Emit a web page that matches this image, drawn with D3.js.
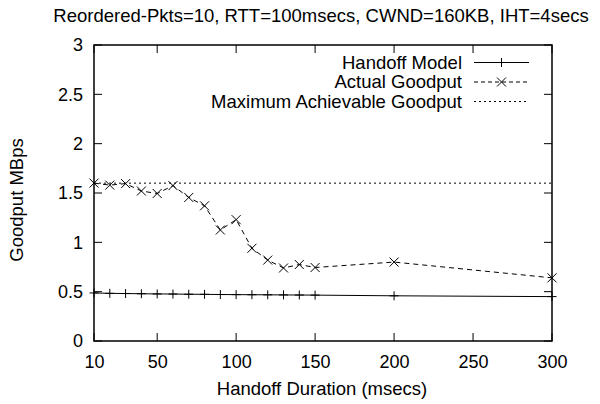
<!DOCTYPE html>
<html>
<head>
<meta charset="utf-8">
<script src="https://cdn.jsdelivr.net/npm/d3@7"></script>
<style>
  body { margin: 0; background: #fff; }
  svg { font-family: "Liberation Sans", Arial, sans-serif; }
</style>
</head>
<body>
<svg></svg>
<script>
const width = 600;
const height = 404;
const margin = { top: 45, right: 48, bottom: 63, left: 94 };

const title = 'Reordered-Pkts=10, RTT=100msecs, CWND=160KB, IHT=4secs';
const xTicks = [10, 50, 100, 150, 200, 250, 300];
const yTicks = [0, 0.5, 1, 1.5, 2, 2.5, 3];

const durations = [10, 20, 30, 40, 50, 60, 70, 80, 90, 100, 110, 120, 130, 140, 150, 200, 300];
const handoffModel = [0.487, 0.483, 0.481, 0.479, 0.477, 0.476, 0.474, 0.473, 0.471, 0.470, 0.469, 0.468, 0.467, 0.466, 0.465, 0.458, 0.450];
const actualGoodput = [1.60, 1.58, 1.595, 1.52, 1.495, 1.575, 1.455, 1.37, 1.125, 1.23, 0.94, 0.82, 0.74, 0.775, 0.745, 0.80, 0.64];
const maxGoodput = 1.6;

const font = '"Liberation Sans", Arial, sans-serif';
const textSize = 18.5;
const tickSize = 18;

const svg = d3.select('svg')
  .attr('width', width)
  .attr('height', height);

const x = d3.scaleLinear()
  .domain([10, 300])
  .range([margin.left, width - margin.right]);

const y = d3.scaleLinear()
  .domain([0, 3])
  .range([height - margin.bottom, margin.top]);

const tickLen = 8;
const plotLeft = x.range()[0], plotRight = x.range()[1];
const plotTop = y.range()[1], plotBottom = y.range()[0];

// ticks on all four sides, pointing inward
const ticks = svg.append('g').attr('stroke', '#000').attr('stroke-width', 1);
xTicks.forEach(t => {
  ticks.append('line').attr('x1', x(t)).attr('x2', x(t)).attr('y1', plotBottom).attr('y2', plotBottom - tickLen);
  ticks.append('line').attr('x1', x(t)).attr('x2', x(t)).attr('y1', plotTop).attr('y2', plotTop + tickLen);
});
yTicks.forEach(t => {
  ticks.append('line').attr('x1', plotLeft).attr('x2', plotLeft + tickLen).attr('y1', y(t)).attr('y2', y(t));
  ticks.append('line').attr('x1', plotRight).attr('x2', plotRight - tickLen).attr('y1', y(t)).attr('y2', y(t));
});

svg.append('g')
  .attr('transform', `translate(0, ${plotBottom})`)
  .call(d3.axisBottom(x).tickValues(xTicks).tickSize(0).tickPadding(14))
  .call(g => g.select('.domain').remove())
  .selectAll('text')
  .attr('font-size', tickSize)
  .attr('fill', '#000')
  .attr('font-family', font);

svg.append('g')
  .attr('transform', `translate(${plotLeft}, 0)`)
  .call(d3.axisLeft(y).tickValues(yTicks).tickFormat(d3.format('')).tickSize(0).tickPadding(11))
  .call(g => g.select('.domain').remove())
  .selectAll('text')
  .attr('font-size', tickSize)
  .attr('fill', '#000')
  .attr('font-family', font);

// max achievable goodput
svg.append('line')
  .attr('x1', plotLeft).attr('x2', plotRight)
  .attr('y1', y(maxGoodput)).attr('y2', y(maxGoodput))
  .attr('stroke', '#000').attr('stroke-width', 1)
  .attr('stroke-dasharray', '2,3');

const line = d3.line()
  .x(d => x(d[0]))
  .y(d => y(d[1]));

const modelData = durations.map((d, i) => [d, handoffModel[i]]);
const actualData = durations.map((d, i) => [d, actualGoodput[i]]);

svg.append('path')
  .datum(modelData)
  .attr('d', line)
  .attr('fill', 'none')
  .attr('stroke', '#000')
  .attr('stroke-width', 1);

svg.append('path')
  .datum(actualData)
  .attr('d', line)
  .attr('fill', 'none')
  .attr('stroke', '#000')
  .attr('stroke-width', 1)
  .attr('stroke-dasharray', '5,4');

const m = 4.5;
const plusPath = (cx, cy) => `M${cx - m},${cy}H${cx + m}M${cx},${cy - m}V${cy + m}`;
const crossPath = (cx, cy) => `M${cx - m},${cy - m}L${cx + m},${cy + m}M${cx - m},${cy + m}L${cx + m},${cy - m}`;

svg.append('g').selectAll('path')
  .data(modelData)
  .join('path')
  .attr('d', d => plusPath(x(d[0]), y(d[1])))
  .attr('stroke', '#000')
  .attr('stroke-width', 1);

svg.append('g').selectAll('path')
  .data(actualData)
  .join('path')
  .attr('d', d => crossPath(x(d[0]), y(d[1])))
  .attr('stroke', '#000')
  .attr('stroke-width', 1);

// frame
svg.append('rect')
  .attr('x', plotLeft).attr('y', plotTop)
  .attr('width', plotRight - plotLeft).attr('height', plotBottom - plotTop)
  .attr('fill', 'none')
  .attr('stroke', '#000')
  .attr('stroke-width', 1.5);

// legend
const legend = [
  { label: 'Handoff Model', dash: null, marker: plusPath },
  { label: 'Actual Goodput', dash: '4,3', marker: crossPath },
  { label: 'Maximum Achievable Goodput', dash: '2,3', marker: null }
];
const legX = 462, lineX1 = 474, lineX2 = 529, legY = 62.5, legStep = 19.5;
legend.forEach((l, i) => {
  const ly = legY + i * legStep;
  svg.append('text')
    .attr('x', legX).attr('y', ly)
    .attr('dy', '0.35em')
    .attr('text-anchor', 'end')
    .attr('font-size', textSize)
    .text(l.label);
  svg.append('line')
    .attr('x1', lineX1).attr('x2', lineX2)
    .attr('y1', ly).attr('y2', ly)
    .attr('stroke', '#000').attr('stroke-width', 1)
    .attr('stroke-dasharray', l.dash);
  if (l.marker) {
    svg.append('path')
      .attr('d', l.marker((lineX1 + lineX2) / 2, ly))
      .attr('stroke', '#000').attr('stroke-width', 1);
  }
});

svg.append('text')
  .attr('x', 321).attr('y', 22)
  .attr('text-anchor', 'middle')
  .attr('font-size', textSize)
  .text(title);

svg.append('text')
  .attr('x', 322).attr('y', 395)
  .attr('text-anchor', 'middle')
  .attr('font-size', textSize)
  .text('Handoff Duration (msecs)');

svg.append('text')
  .attr('transform', 'translate(23, 200) rotate(-90)')
  .attr('text-anchor', 'middle')
  .attr('font-size', textSize)
  .text('Goodput MBps');
</script>
</body>
</html>
